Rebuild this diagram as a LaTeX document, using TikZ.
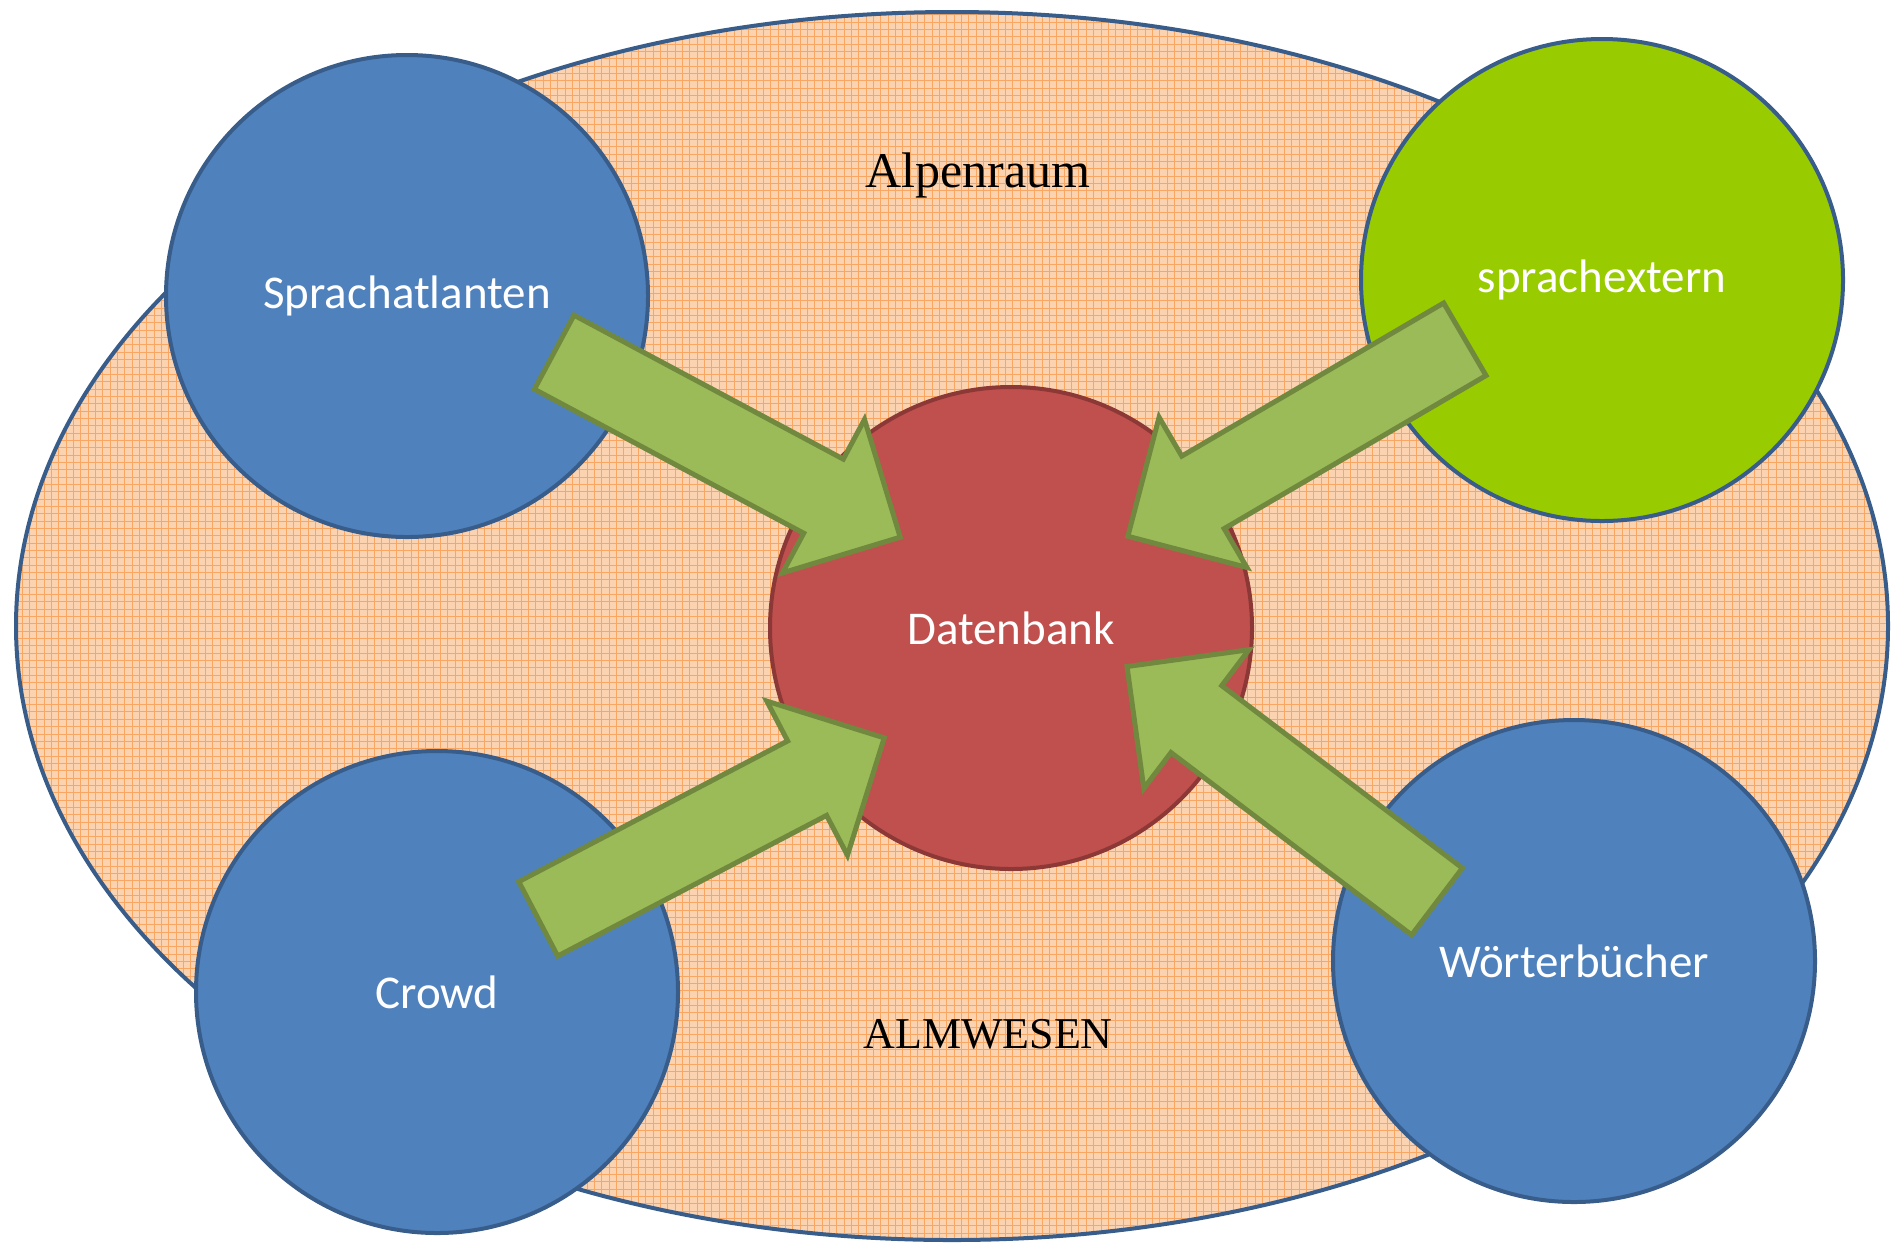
\documentclass[tikz,border=0pt]{standalone}
\usepackage{fontspec}
\setmainfont{Liberation Serif}
\setsansfont{Carlito}
\usetikzlibrary{shapes.arrows,calc}
\definecolor{bluefill}{HTML}{4F81BD}
\definecolor{blueline}{HTML}{385D8A}
\definecolor{limefill}{HTML}{99CC00}
\definecolor{redfill}{HTML}{C0504D}
\definecolor{redline}{HTML}{8C3836}
\definecolor{olivefill}{HTML}{9BBB59}
\definecolor{oliveline}{HTML}{71893F}
\definecolor{peach}{HTML}{FBD3B0}
\definecolor{tangerine}{HTML}{F79646}

\begin{document}
\begin{tikzpicture}[x=0.5pt,y=-0.5pt,
  source/.style={circle,draw=blueline,fill=bluefill,line width=2pt,minimum size=241pt,inner sep=0pt,text=white,font=\fontsize{23.5}{28}\sffamily},
  feed/.style={single arrow,draw=oliveline,fill=olivefill,line width=2.5pt,minimum width=84.5pt,single arrow head extend=22.5pt,inner xsep=0pt,inner ysep=19.75pt,anchor=tail},
  region/.style={anchor=base}]
\useasboundingbox (0,0) rectangle (1894,1244);
\fill[peach] (952,626) ellipse [x radius=936,y radius=614];
\begin{scope}
\clip (952,626) ellipse [x radius=936,y radius=614];
\draw[tangerine!85,line width=0.5pt,step=3.67pt] (0,1244) grid (1894,0);
\end{scope}
\draw[blueline,line width=2pt] (952,626) ellipse [x radius=936,y radius=614];
\node[region,font=\fontsize{25}{30}\selectfont] (alpen) at (978,187) {Alpenraum};
\node[region,font=\fontsize{22}{27}\selectfont] (alm) at (988,1048) {ALMWESEN};
\node[source] (atlas) at (407,296) {Sprachatlanten};
\node[source,fill=limefill] (extern) at (1602,280) {sprachextern};
\node[source,fill=redfill,draw=redline] (db) at (1011,628) {Datenbank};
\node[source] (crowd) at (437,992) {Crowd};
\node[source] (dict) at (1574,961) {Wörterbücher};
\coordinate (atlas-tail) at (552,351);
\coordinate (atlas-tip) at (898,536);
\coordinate (extern-tail) at (1467,338);
\coordinate (extern-tip) at (1130,535);
\coordinate (crowd-tail) at (536,920);
\coordinate (crowd-tip) at (882,739);
\coordinate (dict-tail) at (1439,903);
\coordinate (dict-tip) at (1129,668);
\foreach \s in {atlas,extern,crowd,dict}
  \path let \p1=($(\s-tip)-(\s-tail)$) in
    node[feed,minimum height={veclen(\x1,\y1)},rotate={atan2(\y1,\x1)}] (\s-feed) at (\s-tail) {};
\end{tikzpicture}
\end{document}
